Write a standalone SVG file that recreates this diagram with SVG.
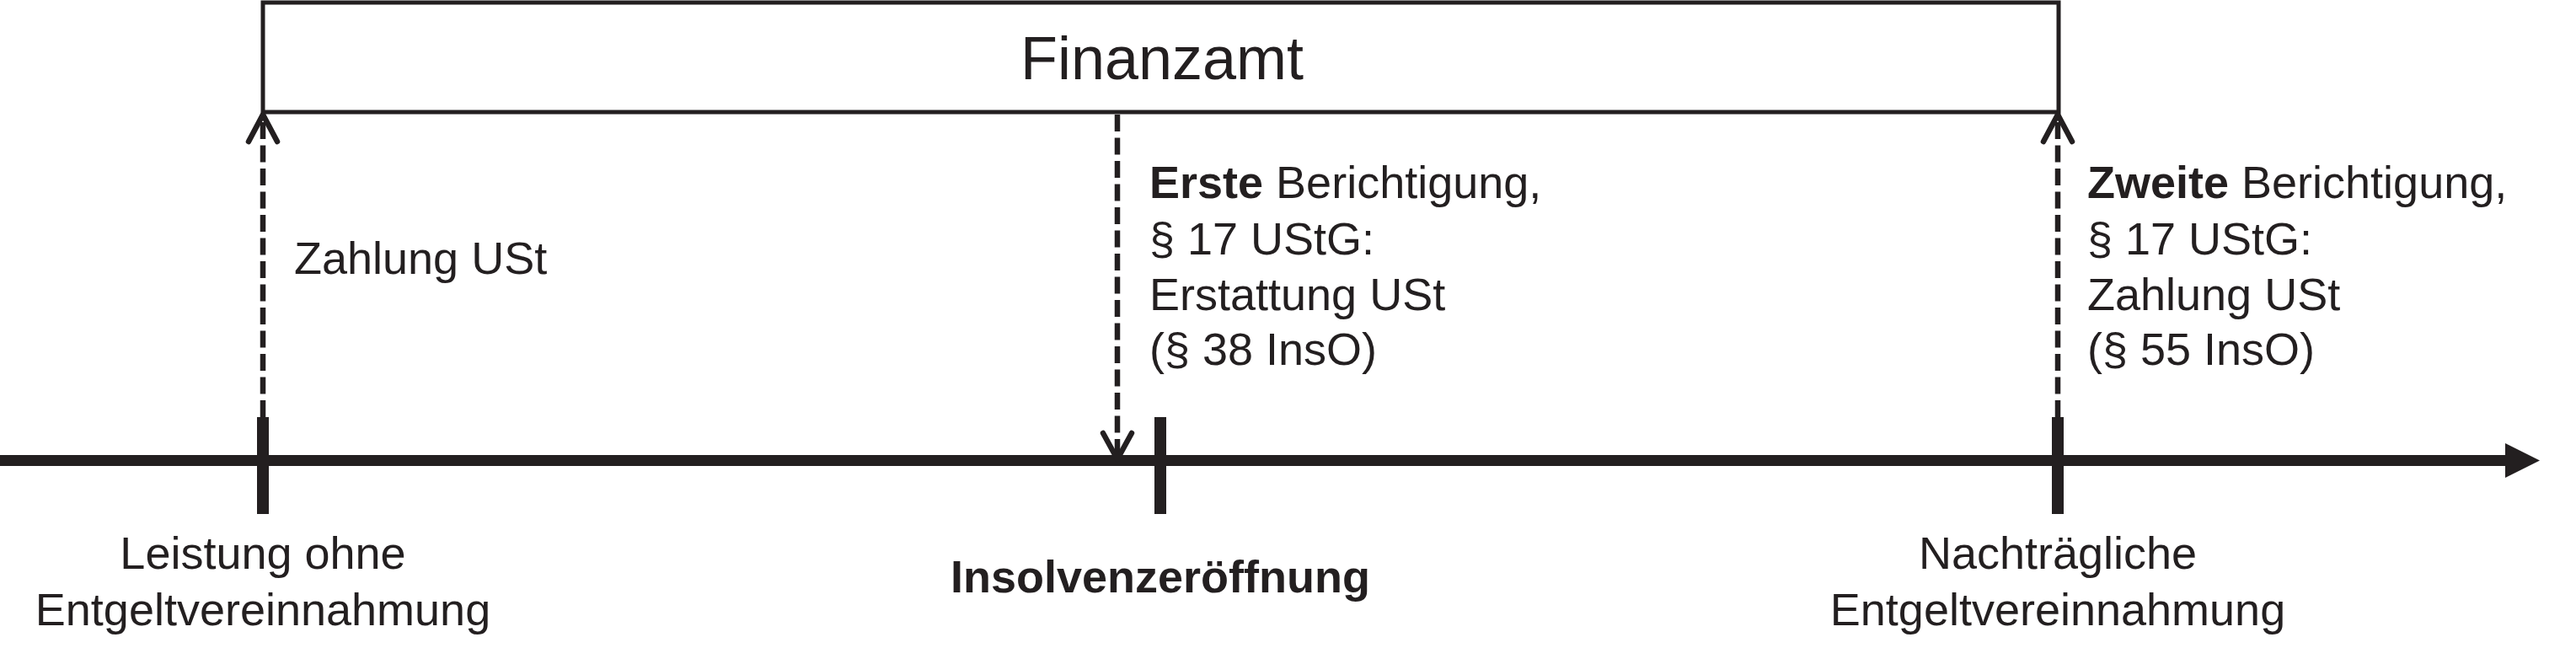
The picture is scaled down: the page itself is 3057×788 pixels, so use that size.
<svg xmlns="http://www.w3.org/2000/svg" width="3057" height="788" viewBox="0 0 3057 788">
<style>
  text { font-family: "Liberation Sans", Arial, sans-serif; font-size: 54px; fill: #231f20; }
  .b { font-weight: bold; }
  .mid { text-anchor: middle; }
  .dash { fill: none; stroke: #231f20; stroke-width: 6.5; stroke-dasharray: 20 7.5; }
  .head { fill: none; stroke: #231f20; stroke-width: 6.5; stroke-linecap: round; stroke-linejoin: round; }
  .tick { stroke: #231f20; stroke-width: 14; }
</style>
<rect width="3057" height="788" fill="#ffffff"/>

<g id="finanzamt">
  <rect x="312" y="3" width="2131" height="130" fill="#ffffff" stroke="#231f20" stroke-width="5"/>
  <text x="1379" y="94" class="mid" style="font-size:72px">Finanzamt</text>
</g>

<g id="timeline">
  <line x1="0" y1="546.5" x2="2976" y2="546.5" stroke="#231f20" stroke-width="13"/>
  <polygon points="2973,526 3014,546.5 2973,567" fill="#231f20"/>
</g>

<g id="leistung">
  <line class="tick" x1="312" y1="495" x2="312" y2="610"/>
  <text x="312" y="675" class="mid">Leistung ohne</text>
  <text x="312" y="742" class="mid">Entgeltvereinnahmung</text>
</g>

<g id="insolvenz">
  <line class="tick" x1="1377" y1="495" x2="1377" y2="610"/>
  <text x="1377" y="703" class="mid b">Insolvenzeröffnung</text>
</g>

<g id="nachtraeglich">
  <line class="tick" x1="2442" y1="495" x2="2442" y2="610"/>
  <text x="2442" y="675" class="mid">Nachträgliche</text>
  <text x="2442" y="742" class="mid">Entgeltvereinnahmung</text>
</g>

<g id="connectors">
  <line class="dash" x1="312" y1="495" x2="312" y2="140"/>
  <polyline class="head" points="295,168 312,136 329,168"/>

  <line class="dash" x1="1326" y1="136" x2="1326" y2="540"/>
  <polyline class="head" points="1309,514 1326,545 1343,514"/>

  <line class="dash" x1="2442" y1="495" x2="2442" y2="140"/>
  <polyline class="head" points="2425,168 2442,136 2459,168"/>
</g>

<g id="label-zahlung">
  <text x="349" y="325">Zahlung USt</text>
</g>

<g id="label-erste">
  <text x="1364" y="235"><tspan class="b">Erste</tspan> Berichtigung,</text>
  <text x="1364" y="302">§ 17 UStG:</text>
  <text x="1364" y="368">Erstattung USt</text>
  <text x="1364" y="433">(§ 38 InsO)</text>
</g>

<g id="label-zweite">
  <text x="2477" y="235"><tspan class="b">Zweite</tspan> Berichtigung,</text>
  <text x="2477" y="302">§ 17 UStG:</text>
  <text x="2477" y="368">Zahlung USt</text>
  <text x="2477" y="433">(§ 55 InsO)</text>
</g>
</svg>
